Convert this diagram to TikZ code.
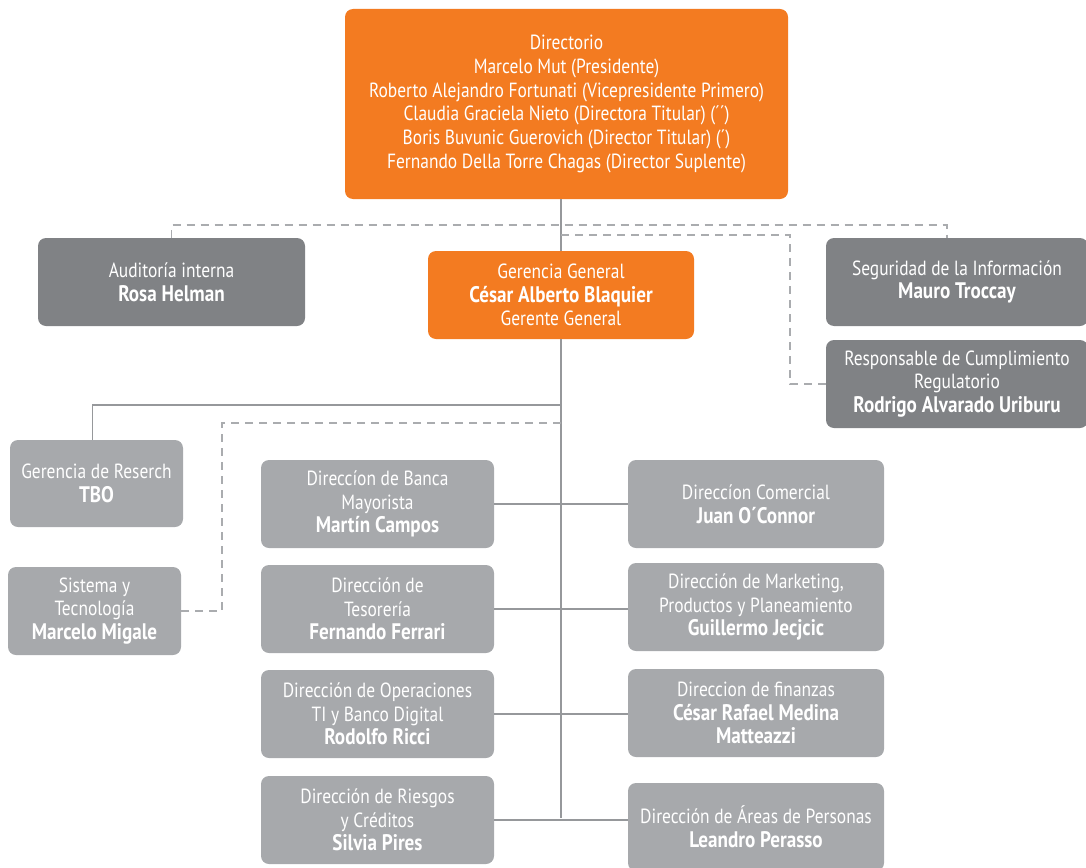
\documentclass[tikz,border=0pt]{standalone}
\usepackage{fontspec}
\setmainfont{PT Sans}[FakeStretch=0.85]
\definecolor{orgOrange}{RGB}{243,123,33}
\definecolor{orgDark}{RGB}{128,130,133}
\definecolor{orgLight}{RGB}{167,169,172}
\definecolor{orgLine}{RGB}{150,152,155}
\definecolor{orgDash}{RGB}{170,172,175}
\newcommand{\nm}[1]{{\fontsize{22.5}{23.7}\selectfont\bfseries #1}}

\begin{document}
\begin{tikzpicture}[x=1pt,y=-1pt,font=\fontsize{20.5}{23.7}\selectfont,
    box/.style={rounded corners=8pt,text=white,align=center,inner sep=0pt},
    orangebox/.style={box,fill=orgOrange},
    darkbox/.style={box,fill=orgDark},
    lightbox/.style={box,fill=orgLight},
    solidline/.style={draw=orgLine,line width=1.6pt},
    dashline/.style={draw=orgDash,line width=1.6pt,dash pattern=on 8pt off 6pt}]
    \useasboundingbox (0,0) rectangle (1086,867);

    % top level
    \node[orangebox,minimum width=443,minimum height=190] (dir) at (566.5,104)
      {Directorio\\Marcelo Mut (Presidente)\\Roberto Alejandro Fortunati (Vicepresidente Primero)\\
       Claudia Graciela Nieto (Directora Titular) (´´)\\Boris Buvunic Guerovich (Director Titular) (´)\\
       Fernando Della Torre Chagas (Director Suplente)};
    \node[darkbox,minimum width=267,minimum height=88] (aud) at (171.5,282)
      {Auditoría interna\\\nm{Rosa Helman}};
    \node[orangebox,minimum width=266,minimum height=88] (gg) at (561,295)
      {Gerencia General\\\nm{César Alberto Blaquier}\\Gerente General};
    \node[darkbox,minimum width=262,minimum height=88] (seg) at (957,282)
      {Seguridad de la Información\\\nm{Mauro Troccay}};
    \node[darkbox,minimum width=262,minimum height=88] (resp) at (957,384)
      {Responsable de Cumplimiento\\Regulatorio\\\nm{Rodrigo Alvarado Uriburu}};

    % staff units on the left
    \node[lightbox,minimum width=173,minimum height=87] (res) at (96.5,483.5)
      {Gerencia de Reserch\\\nm{TBO}};
    \node[lightbox,minimum width=173,minimum height=88] (sis) at (94.5,611)
      {Sistema y\\Tecnología\\\nm{Marcelo Migale}};

    % direcciones
    \node[lightbox,minimum width=233,minimum height=88] (ban) at (377.5,504)
      {Direccíon de Banca\\Mayorista\\\nm{Martín Campos}};
    \node[lightbox,minimum width=233,minimum height=88] (tes) at (377.5,609)
      {Dirección de\\Tesorería\\\nm{Fernando Ferrari}};
    \node[lightbox,minimum width=233,minimum height=88] (ope) at (377.5,714)
      {Dirección de Operaciones\\TI y Banco Digital\\\nm{Rodolfo Ricci}};
    \node[lightbox,minimum width=233,minimum height=88] (rie) at (377.5,820)
      {Dirección de Riesgos\\y Créditos\\\nm{Silvia Pires}};
    \node[lightbox,minimum width=256,minimum height=88] (com) at (756,504)
      {Direccíon Comercial\\\nm{Juan O´Connor}};
    \node[lightbox,minimum width=256,minimum height=88] (mkt) at (756,607)
      {Dirección de Marketing,\\Productos y Planeamiento\\\nm{Guillermo Jecjcic}};
    \node[lightbox,minimum width=256,minimum height=88] (fin) at (756,713)
      {Direccion de finanzas\\\nm{César Rafael Medina}\\\nm{Matteazzi}};
    \node[lightbox,minimum width=256,minimum height=88] (per) at (756,827)
      {Dirección de Áreas de Personas\\\nm{Leandro Perasso}};

    % bus points on the spine
    \coordinate (topbus) at (561,225);
    \coordinate (cumbus) at (561,235);
    \coordinate (resbus) at (561,405);
    \coordinate (sisbus) at (561,423);
    \coordinate (spine) at (561,818);

    % solid connectors
    \draw[solidline] (dir.south -| gg.north) -- (gg.north);
    \draw[solidline] (gg.south) -- (spine);
    \draw[solidline] (resbus) -| ([xshift=-4pt]res.north);
    \draw[solidline] (ban.east) -- (com.west);
    \draw[solidline] (tes.east) -- (tes.east -| mkt.west);
    \draw[solidline] (ope.east) -- (ope.east -| fin.west);
    \draw[solidline] (rie.east) -- (rie.east -| per.west);

    % dashed connectors
    \draw[dashline] (aud.north) |- (topbus) -| ([xshift=-10pt]seg.north);
    \draw[dashline] (cumbus) -- ++(229,0) |- (resp.west);
    \draw[dashline] (sisbus) -- ++(-339,0) |- (sis.east);
  \end{tikzpicture}
\end{document}
